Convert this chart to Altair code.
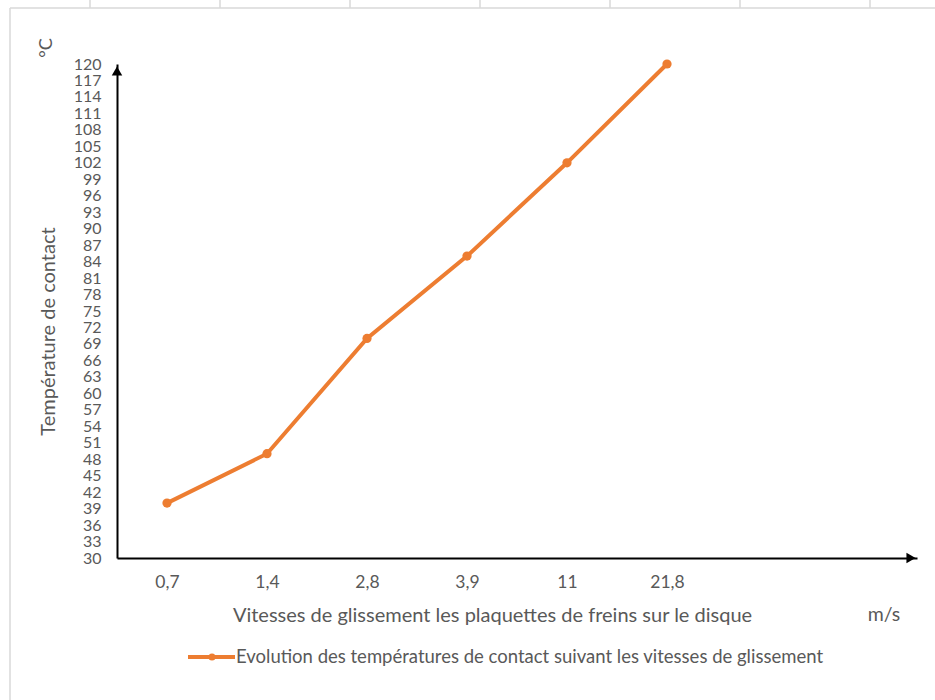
import altair as alt
import pandas as pd

# Sliding speeds (m/s) and measured contact temperatures (°C)
speed_labels = ["0,7", "1,4", "2,8", "3,9", "11", "21,8"]
temperatures = [40, 49, 70, 85, 102, 120]
y_ticks = list(range(30, 121, 3))

series_name = "Evolution des températures de contact suivant les vitesses de glissement"
x_title = "Vitesses de glissement les plaquettes de freins sur le disque"
y_title = "Température de contact"

ORANGE = "#ED7D31"
GRAY = "#595959"
FONT = "Lato"

df = pd.DataFrame({"idx": list(range(len(speed_labels))), "label": speed_labels, "temp": temperatures})

label_array = "[" + ",".join(f"'{s}'" for s in speed_labels) + "]"

x_enc = alt.X(
    "idx:Q",
    scale=alt.Scale(domain=[-0.5, 7.5], nice=False, zero=False),
    axis=alt.Axis(
        values=list(range(len(speed_labels))),
        labelExpr=f"{label_array}[datum.value]",
        ticks=False, grid=False, domainColor="black", domainWidth=2,
        labelColor=GRAY, labelFont=FONT, labelFontSize=17.5, labelPadding=15,
        labelFlush=False, labelOverlap=False,
        title=x_title, titleFont=FONT, titleFontSize=20, titleFontWeight="normal",
        titleColor=GRAY, titleX=375, titleY=57, titleBaseline="middle", titleAlign="center",
    ),
)
y_enc = alt.Y(
    "temp:Q",
    scale=alt.Scale(domain=[30, 120], nice=False, zero=False),
    axis=alt.Axis(
        values=y_ticks, ticks=False, grid=False, domainColor="black", domainWidth=2,
        labelColor=GRAY, labelFont=FONT, labelFontSize=16, labelPadding=16,
        labelFlush=False, labelOverlap=False, labelSeparation=0,
        title=y_title, titleFont=FONT, titleFontSize=20, titleFontWeight="normal",
        titleColor=GRAY, titleX=-69, titleY=267, titleAngle=-90,
        titleBaseline="middle", titleAlign="center",
    ),
)

base = alt.Chart(df)
line = base.mark_line(color=ORANGE, strokeWidth=4).encode(x=x_enc, y=y_enc)
points = base.mark_point(color=ORANGE, filled=True, opacity=1, size=85).encode(x=x_enc, y=y_enc)

anchor = alt.Chart(pd.DataFrame({"a": [0]}))

# axis arrow heads
y_arrow = anchor.mark_point(shape="triangle-up", filled=True, color="black", opacity=1, size=110, yOffset=7).encode(
    x=alt.value(0), y=alt.value(0))
x_arrow = anchor.mark_point(shape="triangle-right", filled=True, color="black", opacity=1, size=110, xOffset=-6).encode(
    x=alt.value(800), y=alt.value(494))

# units
unit_y = anchor.mark_text(text="°C", angle=270, font=FONT, fontSize=18, color=GRAY).encode(
    x=alt.value(-70), y=alt.value(-16))
unit_x = anchor.mark_text(text="m/s", font=FONT, fontSize=19.5, color=GRAY).encode(
    x=alt.value(767), y=alt.value(551))

# legend
leg_line = anchor.mark_rule(color=ORANGE, strokeWidth=4).encode(
    x=alt.value(71), x2=alt.value(118), y=alt.value(593))
leg_dot = anchor.mark_point(color=ORANGE, filled=True, opacity=1, size=50).encode(
    x=alt.value(95), y=alt.value(593))
leg_text = anchor.mark_text(text=series_name, align="left", baseline="middle", font=FONT, fontSize=18.5, color=GRAY).encode(
    x=alt.value(119), y=alt.value(593))

# outer frame of the chart object
FRAME = "#D9D9D9"
frame_left = anchor.mark_rule(color=FRAME, strokeWidth=1.5).encode(
    x=alt.value(-107), y=alt.value(-56), y2=alt.value(640))
frame_top = anchor.mark_rule(color=FRAME, strokeWidth=1.5).encode(
    x=alt.value(-107), x2=alt.value(820), y=alt.value(-56))
col_ticks = [
    anchor.mark_rule(color=FRAME, strokeWidth=1.5).encode(
        x=alt.value(px), y=alt.value(-64), y2=alt.value(-56))
    for px in (-27, 103, 233, 363, 493, 623, 753)
]

chart = alt.layer(
    frame_left, frame_top, *col_ticks,
    line, points, y_arrow, x_arrow, unit_y, unit_x, leg_line, leg_dot, leg_text,
).properties(
    width=800, height=494, autosize="none",
    padding={"left": 117, "top": 64, "right": 18, "bottom": 142},
    background="white",
).configure_view(stroke=None).configure_axis(labelOverlap=False)

chart.save("out.html", embed_options={"renderer": "svg", "actions": False})
